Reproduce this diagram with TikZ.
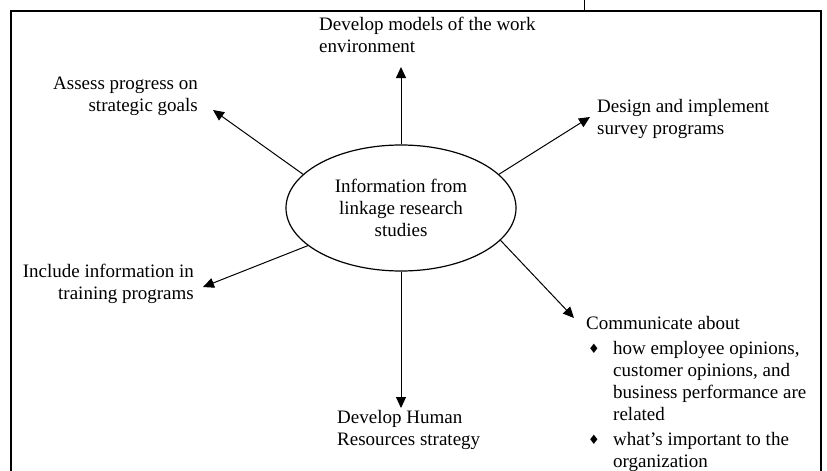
\documentclass[tikz,border=0pt]{standalone}
\usepackage{fontspec}
\setmainfont{Liberation Serif}
\newfontfamily\symfont{DejaVu Sans}
\usetikzlibrary{shapes.geometric,arrows.meta}

% diamond bullet followed by the hanging indent of the list text
\newcommand{\dmd}{\makebox[27pt][l]{\hspace{2pt}\raisebox{0.5pt}{\symfont\fontsize{13}{13}\selectfont ♦}}}
\newcommand{\hang}{\hspace*{27pt}}

\tikzset{
  lbl/.style={inner sep=0pt, font=\fontsize{19}{22}\selectfont},
  hub/.style={ellipse, draw, line width=1.2pt, minimum width=230pt,
    minimum height=126pt, inner sep=0pt, align=center,
    font=\fontsize{19}{22}\selectfont},
  spoke/.style={draw, line width=1pt, -{Triangle[length=11pt,width=10pt]}},
  frameline/.style={line width=1.5pt},
}

\begin{document}
\begin{tikzpicture}[x=1pt,y=-1pt]
\useasboundingbox (0,0) rectangle (827,471);

% surrounding frame and the short rule above it
\draw[frameline] (11,480) -- (11,11) -- (821,11) -- (821,480);
\draw[line width=0.8pt] (584,0) -- (584,11);

% central ellipse
\node[hub] (info) at (401,208) {Information from\\linkage research\\studies};

% outcome labels
\node[lbl, anchor=north west, align=left] (models) at (319,17)
  {Develop models of the work\\environment};
\node[lbl, anchor=north east, align=right] (assess) at (198,77)
  {Assess progress on\\strategic goals};
\node[lbl, anchor=north west, align=left] (design) at (597,99)
  {Design and implement\\survey programs};
\node[lbl, anchor=north east, align=right] (train) at (194,264)
  {Include information in\\training programs};
\node[lbl, anchor=north west, align=left] (hr) at (337,410)
  {Develop Human\\Resources strategy};
\node[lbl, anchor=north west, align=left] (comm) at (586,316)
  {Communicate about\\[3pt]
   \dmd how employee opinions,\\
   \hang customer opinions, and\\
   \hang business performance are\\
   \hang related\\[3pt]
   \dmd what’s important to the\\
   \hang organization};

% arrow tips
\coordinate (tUp)   at (401,67);
\coordinate (tUL)   at (213,110);
\coordinate (tUR)   at (590,117);
\coordinate (tLL)   at (203,287);
\coordinate (tDown) at (401,408);
\coordinate (tLR)   at (574,318);

% spokes
\draw[spoke] (info.90)  -- (tUp);
\draw[spoke] (info.161) -- (tUL);
\draw[spoke] (info.19)  -- (tUR);
\draw[spoke] (info.202) -- (tLL);
\draw[spoke] (info.270) -- (tDown);
\draw[spoke] (info.342) -- (tLR);
\end{tikzpicture}
\end{document}
